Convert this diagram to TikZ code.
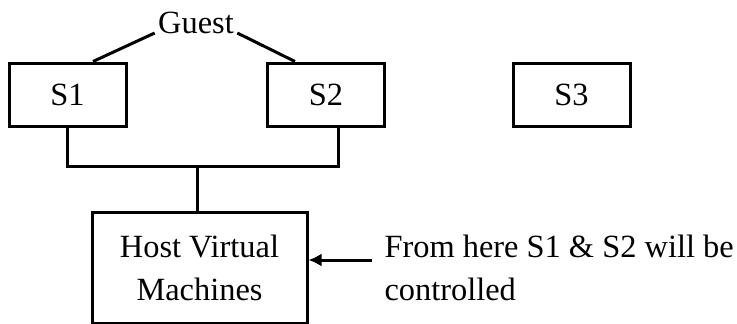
\documentclass[tikz,border=0pt]{standalone}
\usepackage{fontspec}
\setmainfont{Liberation Serif}
\usetikzlibrary{arrows.meta,calc}
\begin{document}
\begin{tikzpicture}[x=1pt,y=-1pt,
  line width=3pt,
  every node/.style={font=\fontsize{32.4}{43}\selectfont},
  srv/.style={draw,minimum width=117pt,minimum height=63pt,inner sep=0pt},
  hostbox/.style={draw,minimum width=215pt,minimum height=111pt,inner sep=0pt,align=center},
  ptr/.style={-{Latex[length=13pt,width=13pt]}}]
  \useasboundingbox (0,0) rectangle (737,324);

  % guest servers and the spare one
  \node[srv] (S1) at (67.5,94.5) {S1};
  \node[srv] (S2) at (326,94.5) {S2};
  \node[srv] (S3) at (571.5,95) {S3};
  \node[anchor=base,inner sep=2pt] (guest) at (196,33) {Guest};

  % host machine
  \node[hostbox] (host) at (199.5,267.5) {Host Virtual\\Machines};

  % guest label lines
  \draw (guest.base west) -- ([xshift=25.5pt]S1.north);
  \draw (guest.base east) -- ([xshift=-31pt]S2.north);

  % bus joining the guests to the host
  \coordinate (bus) at (197,166);
  \draw (S1.south) -- (S1.south |- bus) -- ([xshift=12pt]S2.south |- bus) -- ([xshift=12pt]S2.south);
  \draw (bus) -- (bus |- host.north);

  % note with pointer (base anchor sits on the last line)
  \node[anchor=base west,align=left,inner sep=0pt] (note) at (383,300)
    {From here S1 \& S2 will be\\controlled};
  \coordinate (tail) at (372,260);
  \draw[ptr] (tail) -- (tail -| host.east);
\end{tikzpicture}
\end{document}
